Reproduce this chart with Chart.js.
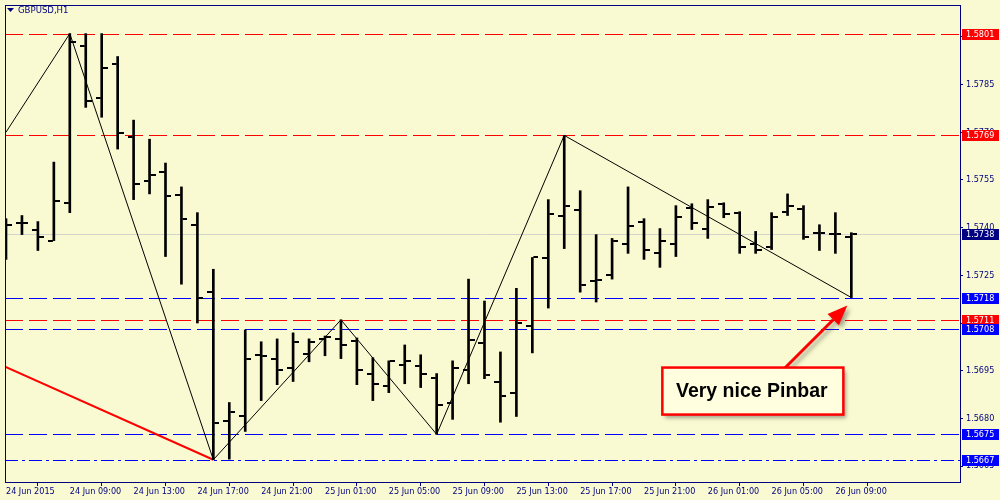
<!DOCTYPE html>
<html>
<head>
<meta charset="utf-8">
<script src="https://cdn.jsdelivr.net/npm/chart.js"></script>
<style>
  html, body { margin: 0; padding: 0; background: #fafad2; }
  #wrap { width: 1000px; height: 500px; }
</style>
</head>
<body>
<div id="wrap"><canvas id="myChart" width="1000" height="500"></canvas></div>
<script>
// GBPUSD H1 bars, index 0 = 24 Jun 05:00 ... index 53 = 26 Jun 10:00
const opens = [
  1.57381, 1.57416, 1.57394, 1.57359, 1.57478, 1.57972, 1.57806, 1.57913, 1.57684, 1.57547,
  1.57575, 1.57503, 1.57409, 1.57197, 1.56791, 1.56809, 1.57000, 1.56988, 1.56959, 1.57003,
  1.57050, 1.57050, 1.57044, 1.56941, 1.56903, 1.56969, 1.56966, 1.56928, 1.56850, 1.56953,
  1.57038, 1.56916, 1.56881, 1.57091, 1.57303, 1.57438, 1.57456, 1.57231, 1.57250, 1.57347,
  1.57419, 1.57319, 1.57347, 1.57463, 1.57397, 1.57475, 1.57447, 1.57347, 1.57338, 1.57450,
  1.57459, 1.57384, 1.57381, 1.57372
];
const highs = [
  1.57428, 1.57438, 1.57419, 1.57606, 1.58010, 1.58010, 1.58010, 1.57938, 1.57738, 1.57678,
  1.57603, 1.57528, 1.57447, 1.57269, 1.56850, 1.57078, 1.57041, 1.57050, 1.57069, 1.57050,
  1.57059, 1.57110, 1.57053, 1.56991, 1.56981, 1.57031, 1.57000, 1.56941, 1.56981, 1.57238,
  1.57169, 1.57009, 1.57209, 1.57306, 1.57488, 1.57690, 1.57516, 1.57378, 1.57366, 1.57528,
  1.57428, 1.57397, 1.57469, 1.57475, 1.57488, 1.57478, 1.57450, 1.57388, 1.57447, 1.57506,
  1.57469, 1.57409, 1.57447, 1.57384
];
const lows = [
  1.57300, 1.57378, 1.57328, 1.57359, 1.57447, 1.57778, 1.57747, 1.57647, 1.57488, 1.57506,
  1.57309, 1.57222, 1.57100, 1.56670, 1.56672, 1.56759, 1.56856, 1.56906, 1.56916, 1.56978,
  1.56997, 1.56988, 1.56906, 1.56856, 1.56881, 1.56909, 1.56897, 1.56750, 1.56797, 1.56909,
  1.56925, 1.56788, 1.56806, 1.57006, 1.57147, 1.57334, 1.57197, 1.57166, 1.57238, 1.57319,
  1.57300, 1.57275, 1.57309, 1.57394, 1.57366, 1.57431, 1.57319, 1.57319, 1.57331, 1.57438,
  1.57363, 1.57328, 1.57319, 1.57180
];
const closes = [
  1.57409, 1.57413, 1.57369, 1.57484, 1.57984, 1.57797, 1.57903, 1.57697, 1.57538, 1.57566,
  1.57500, 1.57428, 1.57178, 1.56784, 1.56819, 1.56988, 1.56997, 1.56953, 1.57041, 1.57041,
  1.57056, 1.57031, 1.56953, 1.56909, 1.56981, 1.56981, 1.56941, 1.56841, 1.56959, 1.57047,
  1.56938, 1.56872, 1.57100, 1.57306, 1.57444, 1.57469, 1.57219, 1.57234, 1.57359, 1.57406,
  1.57328, 1.57359, 1.57434, 1.57413, 1.57466, 1.57444, 1.57338, 1.57331, 1.57434, 1.57469,
  1.57369, 1.57384, 1.57381, 1.57380
];

// one time label every 4 bars
const xTickLabels = [
  '24 Jun 2015', '24 Jun 09:00', '24 Jun 13:00', '24 Jun 17:00', '24 Jun 21:00',
  '25 Jun 01:00', '25 Jun 05:00', '25 Jun 09:00', '25 Jun 13:00', '25 Jun 17:00',
  '25 Jun 21:00', '26 Jun 01:00', '26 Jun 05:00', '26 Jun 09:00'
];
const yTickValues = [1.5665, 1.5680, 1.5695, 1.5710, 1.5725, 1.5740, 1.5755, 1.5770, 1.5785, 1.5800];

const zigzagIdx = [0, 4, 13, 21, 27, 35, 53];
const zigzagPrice = [1.57700, 1.58010, 1.56670, 1.57110, 1.56750, 1.57690, 1.57180];
const trendIdx = [-0.0625, 13];
const trendPrice = [1.56963, 1.56670];

const redLevels = [1.5801, 1.5769, 1.5711];
const blueLevels = [1.5718, 1.5708, 1.5675];
const dashDotLevels = [1.5667];
const bidPrice = 1.5738;

const xMin = -0.0625, xMax = 59.8125;
const NAVY = '#000080';
const FONT = '"DejaVu Sans Condensed", "Liberation Sans", sans-serif';

let makeTick = (side) => {
  const c = document.createElement('canvas');
  c.width = 12; c.height = 2;
  const g = c.getContext('2d');
  g.fillStyle = '#000';
  if (side === 'left') g.fillRect(0, 0, 5, 2);
  else g.fillRect(7, 0, 5, 2);
  return c;
};

let levelSet = (v, color, dash) => ({
  type: 'line',
  level: true,
  data: [{ x: xMin, y: v }, { x: xMax, y: v }],
  borderColor: color,
  borderWidth: 1,
  borderDash: dash,
  pointRadius: 0,
  order: 5
});

const datasets = [
  {
    type: 'bar',
    data: highs.map((h, i) => ({ x: i, y: [lows[i], h] })),
    backgroundColor: '#000',
    barThickness: 2,
    grouped: false,
    borderWidth: 0,
    order: 1
  },
  {
    type: 'scatter',
    data: opens.map((o, i) => ({ x: i, y: o })),
    pointStyle: makeTick('left'),
    pointRadius: 3,
    order: 0
  },
  {
    type: 'scatter',
    data: closes.map((c, i) => ({ x: i, y: c })),
    pointStyle: makeTick('right'),
    pointRadius: 3,
    order: 0
  },
  {
    type: 'line',
    data: zigzagIdx.map((x, k) => ({ x: x, y: zigzagPrice[k] })),
    borderColor: '#000',
    borderWidth: 1,
    pointRadius: 0,
    order: 3
  },
  {
    type: 'line',
    data: trendIdx.map((x, k) => ({ x: x, y: trendPrice[k] })),
    borderColor: '#ff0000',
    borderWidth: 2,
    pointRadius: 0,
    order: 3
  },
  levelSet(bidPrice, '#d4d4cc', [])
];
redLevels.forEach(v => datasets.push(levelSet(v, '#ff0000', [18, 6])));
blueLevels.forEach(v => datasets.push(levelSet(v, '#0000ff', [18, 6])));
dashDotLevels.forEach(v => datasets.push(levelSet(v, '#0000ff', [13, 4, 3, 4])));

let noPad = (s) => {
  s.paddingTop = 0; s.paddingBottom = 0; s.paddingLeft = 0; s.paddingRight = 0;
};

const decor = {
  id: 'decor',
  beforeDraw(chart) {
    const ctx = chart.ctx;
    ctx.save();
    ctx.fillStyle = '#fafad2';
    ctx.fillRect(0, 0, chart.width, chart.height);
    ctx.restore();
  },
  beforeDatasetsDraw(chart) {
    // keep the horizontal level lines on whole pixel rows
    chart.data.datasets.forEach((ds, i) => {
      if (!ds.level) return;
      chart.getDatasetMeta(i).data.forEach(p => { p.y = Math.round(p.y) + 0.5; });
    });
  },
  afterDraw(chart) {
    const ctx = chart.ctx;
    const ca = chart.chartArea;
    const xs = chart.scales.x, ys = chart.scales.y;
    ctx.save();

    // frame
    ctx.strokeStyle = NAVY;
    ctx.lineWidth = 1;
    ctx.strokeRect(ca.left + 0.5, ca.top + 0.5, ca.right - ca.left, ca.bottom - ca.top);

    // symbol title
    ctx.fillStyle = NAVY;
    ctx.beginPath();
    ctx.moveTo(7, 8); ctx.lineTo(14, 8); ctx.lineTo(10.5, 12);
    ctx.closePath(); ctx.fill();
    ctx.font = '9.5px ' + FONT;
    ctx.textBaseline = 'middle';
    ctx.textAlign = 'left';
    ctx.fillText('GBPUSD,H1', 18, 11);

    // price boxes on the right axis
    const boxes = [];
    redLevels.forEach(v => boxes.push([v, '#ff0000']));
    blueLevels.forEach(v => boxes.push([v, '#0000ff']));
    dashDotLevels.forEach(v => boxes.push([v, '#0000ff']));
    boxes.push([bidPrice, NAVY]);
    ctx.font = '9px ' + FONT;
    boxes.forEach(([v, c]) => {
      const py = Math.round(ys.getPixelForValue(v));
      ctx.fillStyle = c;
      ctx.fillRect(ca.right + 2, py - 5, 37, 11);
      ctx.fillStyle = '#fff';
      ctx.fillText(v.toFixed(4), ca.right + 6, py + 0.5);
    });

    // callout
    const tipX = xs.getPixelForValue(53) - 4;
    const tipY = ys.getPixelForValue(lows[53]) + 8;
    const bx = tipX - 185, by = tipY + 62, bw = 181, bh = 47;
    const sx = tipX - 64, sy = by + 2;
    const ang = Math.atan2(tipY - sy, tipX - sx);
    const hl = 20, hw = 8;
    const baseX = tipX - hl * Math.cos(ang), baseY = tipY - hl * Math.sin(ang);

    ctx.shadowColor = 'rgba(0,0,0,0.35)';
    ctx.shadowBlur = 4;
    ctx.shadowOffsetX = 3;
    ctx.shadowOffsetY = 3;
    ctx.strokeStyle = '#ff0000';
    ctx.fillStyle = '#ff0000';
    ctx.lineWidth = 3;
    ctx.beginPath();
    ctx.moveTo(sx, sy);
    ctx.lineTo(baseX, baseY);
    ctx.stroke();
    ctx.beginPath();
    ctx.moveTo(tipX, tipY);
    ctx.lineTo(baseX + hw * Math.sin(ang), baseY - hw * Math.cos(ang));
    ctx.lineTo(baseX - hw * Math.sin(ang), baseY + hw * Math.cos(ang));
    ctx.closePath();
    ctx.fill();

    ctx.fillStyle = '#ffffe0';
    ctx.fillRect(bx, by, bw, bh);
    ctx.shadowColor = 'transparent';
    ctx.lineWidth = 2.5;
    ctx.strokeStyle = '#ff0000';
    ctx.strokeRect(bx, by, bw, bh);

    ctx.fillStyle = '#000';
    ctx.font = 'bold 19.5px "Liberation Sans"';
    ctx.textAlign = 'center';
    ctx.textBaseline = 'middle';
    ctx.fillText('Very nice Pinbar', bx + bw / 2 - 1, by + bh / 2 + 1);

    ctx.restore();
  }
};

Chart.defaults.font.family = FONT;
Chart.defaults.font.size = 9;

new Chart(document.getElementById('myChart'), {
  type: 'bar',
  data: { datasets: datasets },
  options: {
    responsive: false,
    devicePixelRatio: 1,
    animation: false,
    events: [],
    layout: { padding: { left: 2, top: 2, right: 0, bottom: 0 } },
    plugins: { legend: { display: false }, tooltip: { enabled: false } },
    scales: {
      x: {
        type: 'linear',
        min: xMin,
        max: xMax,
        offset: false,
        grid: { drawOnChartArea: false, drawTicks: true, tickLength: 4, color: NAVY },
        border: { display: false },
        afterBuildTicks: (s) => { s.ticks = xTickLabels.map((t, k) => ({ value: k * 4 })); },
        ticks: {
          autoSkip: false,
          maxRotation: 0,
          align: 'start',
          padding: 0,
          color: NAVY,
          callback: (v) => xTickLabels[Math.round(v / 4)]
        },
        afterFit: (s) => { s.height = 18; noPad(s); }
      },
      y: {
        position: 'right',
        min: 1.5660,
        max: 1.5810,
        grid: { drawOnChartArea: false, drawTicks: true, tickLength: 3, color: NAVY },
        border: { display: false },
        afterBuildTicks: (s) => { s.ticks = yTickValues.map(v => ({ value: v })); },
        ticks: { padding: 3, color: NAVY, callback: (v) => Number(v).toFixed(4) },
        afterFit: (s) => { s.width = 40; noPad(s); }
      }
    }
  },
  plugins: [decor]
});
</script>
</body>
</html>
